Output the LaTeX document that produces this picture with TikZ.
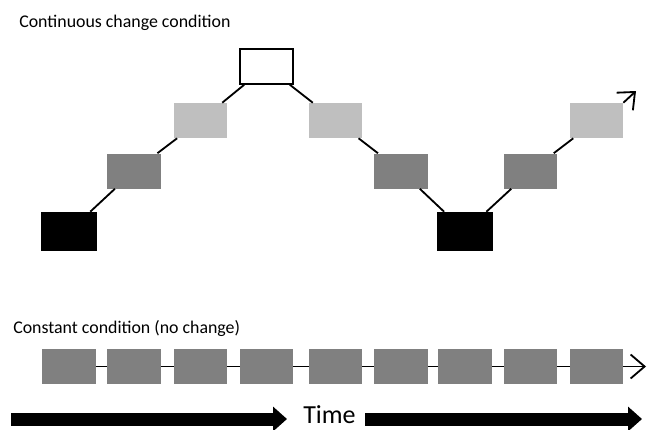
\documentclass[tikz,border=0pt]{standalone}
\usepackage{fontspec}
\setmainfont{Carlito}
\usepackage{xcolor}
\usetikzlibrary{arrows.meta}

\definecolor{midgrey}{RGB}{128,128,128}
\definecolor{palegrey}{RGB}{191,191,191}

\begin{document}
\begin{tikzpicture}[x=0.025cm,y=-0.025cm,
        box/.style={minimum width=1.33cm,minimum height=0.875cm,inner sep=0pt},
        blk/.style={box,fill=black,minimum width=1.4cm,minimum height=0.975cm},
        mid/.style={box,fill=midgrey},
        pale/.style={box,fill=palegrey},
        hollow/.style={box,fill=white,draw=black,line width=1pt},
        link/.style={line width=1.3pt},
        barb/.style={link,-{Straight Barb[length=0.35cm,width=0.6cm]}},
        timearrow/.style={line width=0.325cm,-{Triangle[length=0.35cm,width=0.6cm]}},
        label/.style={anchor=base west,inner sep=0pt,font=\fontsize{12.7}{14}\selectfont}]
    \useasboundingbox (0,0) rectangle (649,429);

    % continuous change
    \node[label] (top) at (19,27) {Continuous change condition};
    \node[blk]    (c1) at (69,231.5) {};
    \node[mid]    (c2) at (134,171) {};
    \node[pale]   (c3) at (200.5,120.5) {};
    \node[hollow] (c4) at (266.5,66.5) {};
    \node[pale]   (c5) at (335.5,120.5) {};
    \node[mid]    (c6) at (401,171) {};
    \node[blk]    (c7) at (465,231.5) {};
    \node[mid]    (c8) at (530.5,171) {};
    \node[pale]   (c9) at (596.5,120.5) {};
    \coordinate (cend) at (636,91);
    \draw[link] (c1) -- (c2);
    \draw[link] (c2) -- (c3);
    \draw[link] (c3) -- (c4);
    \draw[link] (c4) -- (c5);
    \draw[link] (c5) -- (c6);
    \draw[link] (c6) -- (c7);
    \draw[link] (c7) -- (c8);
    \draw[link] (c8) -- (c9);
    \draw[barb] (c9.north east) -- (cend);

    % constant
    \node[label] (bottom) at (13,333) {Constant condition (no change)};
    \node[mid] (k1) at (69,366.5) {};
    \node[mid] (k2) at (134,366.5) {};
    \node[mid] (k3) at (200.5,366.5) {};
    \node[mid] (k4) at (266.5,366.5) {};
    \node[mid] (k5) at (335.5,366.5) {};
    \node[mid] (k6) at (401,366.5) {};
    \node[mid] (k7) at (465,366.5) {};
    \node[mid] (k8) at (530.5,366.5) {};
    \node[mid] (k9) at (596.5,366.5) {};
    \coordinate (kend) at (646,366.5);
    \draw[link] (k1) -- (k2);
    \draw[link] (k2) -- (k3);
    \draw[link] (k3) -- (k4);
    \draw[link] (k4) -- (k5);
    \draw[link] (k5) -- (k6);
    \draw[link] (k6) -- (k7);
    \draw[link] (k7) -- (k8);
    \draw[link] (k8) -- (k9);
    \draw[barb] (k9) -- (kend);

    % time
    \node[anchor=base west,inner sep=0pt,font=\fontsize{18.5}{22}\selectfont] (time) at (303,423.5) {Time};
    \coordinate (t0) at (11,419);
    \coordinate (t1) at (287,419);
    \coordinate (t2) at (365,419);
    \coordinate (t3) at (642,419);
    \draw[timearrow] (t0) -- (t1);
    \draw[timearrow] (t2) -- (t3);
\end{tikzpicture}
\end{document}
